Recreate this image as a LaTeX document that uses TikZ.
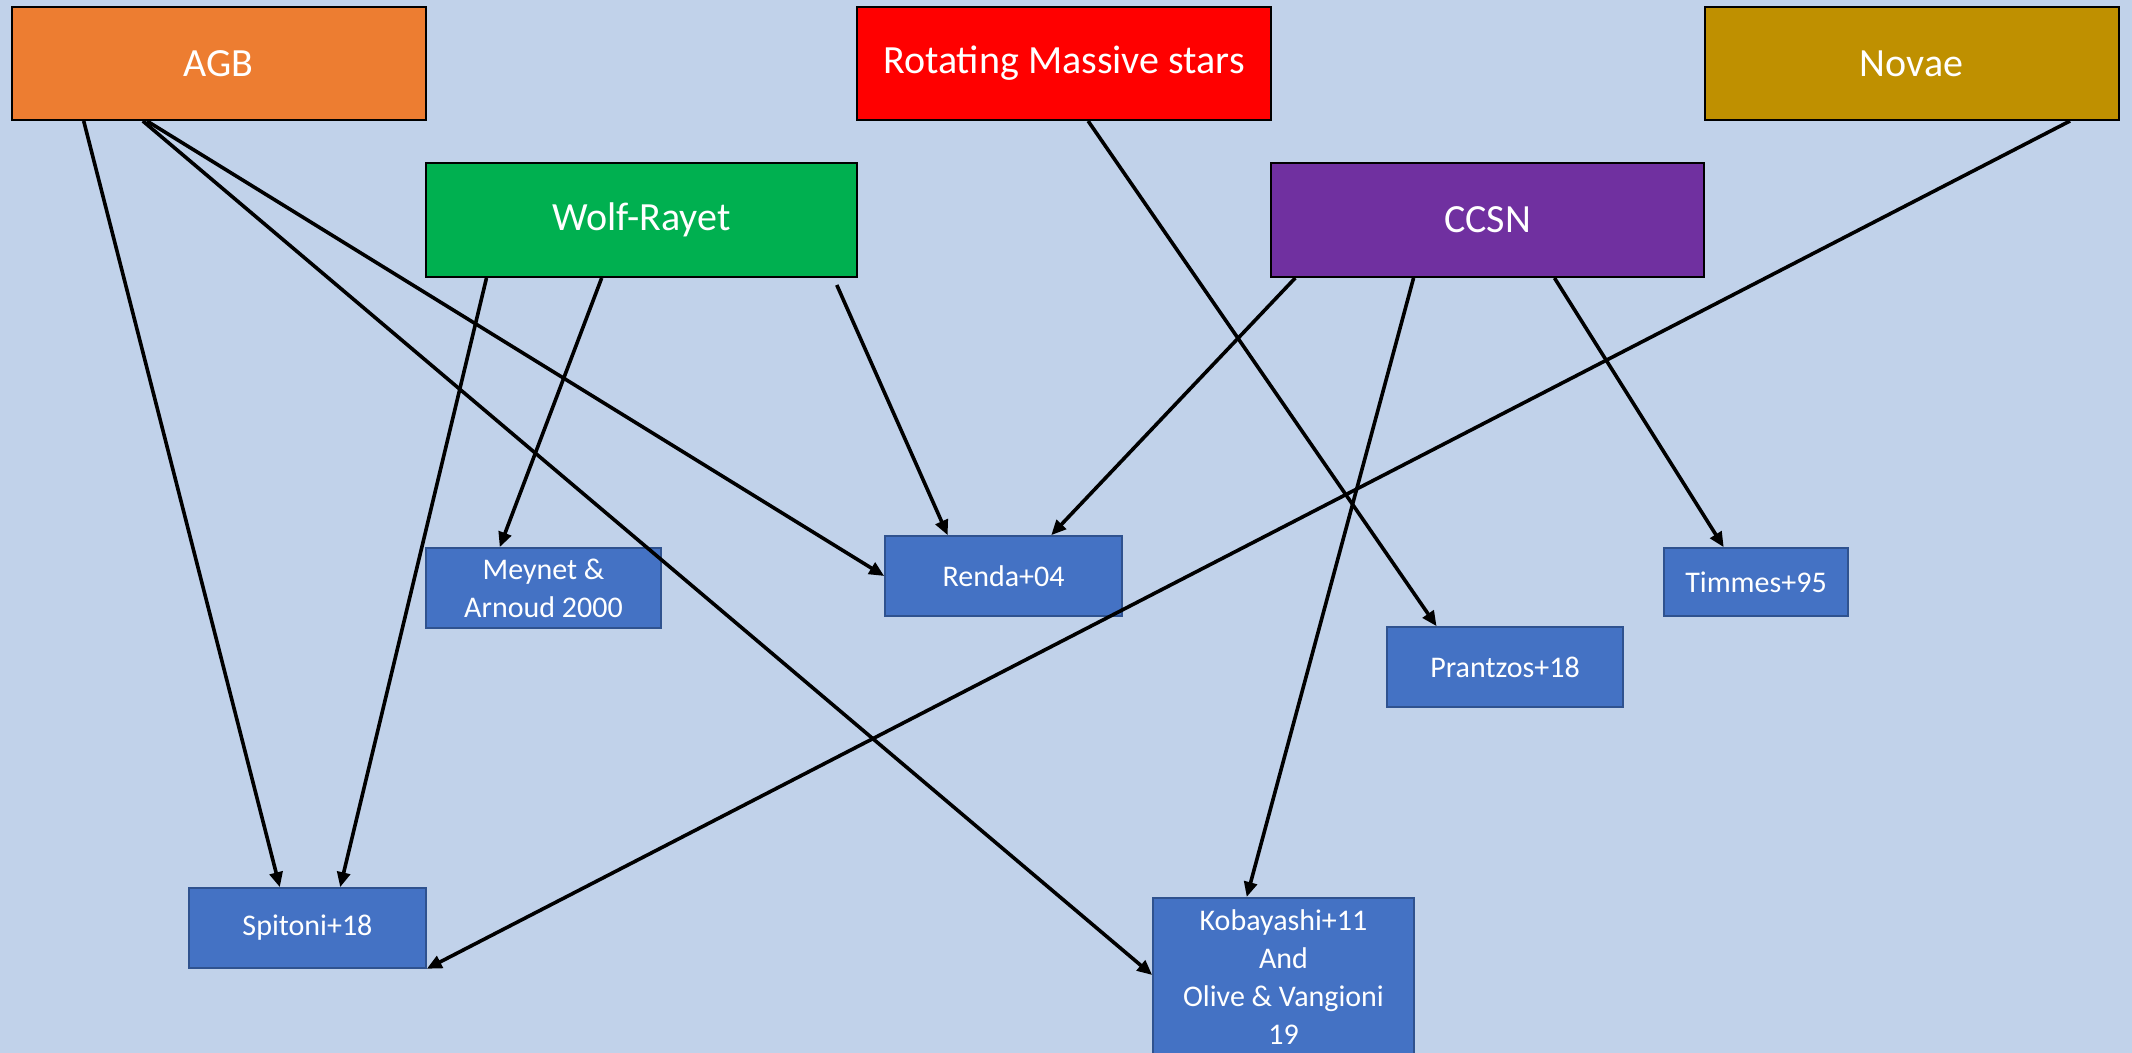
\documentclass[tikz,border=0pt]{standalone}
\usepackage{fontspec}
\setmainfont{Carlito}
\usepackage{tikz}
\usetikzlibrary{calc,arrows.meta}

\definecolor{bgBlue}{HTML}{C1D2EA}
\definecolor{cAGB}{HTML}{ED7D31}
\definecolor{cRot}{HTML}{FF0000}
\definecolor{cNova}{HTML}{BF9000}
\definecolor{cWR}{HTML}{00B050}
\definecolor{cCCSN}{HTML}{7030A0}
\definecolor{refBlue}{HTML}{4472C4}
\definecolor{refEdge}{HTML}{2F528F}

\begin{document}
\begin{tikzpicture}[
  x=0.5pt, y=-0.5pt,
  src/.style={draw=black, line width=1pt, text=white, font=\fontsize{20}{24}\selectfont,
              minimum width=207pt, minimum height=56.5pt, inner sep=0pt},
  ref/.style={draw=refEdge, line width=0.8pt, fill=refBlue, text=white,
              font=\fontsize{15}{19}\selectfont, align=center, inner sep=0pt, minimum height=40pt},
  arr/.style={-{Triangle[length=7.5pt,width=6.5pt]}, line width=1.8pt, black},
]
\useasboundingbox (0,0) rectangle (2132,1053);
\clip (0,0) rectangle (2132,1053);
\fill[bgBlue] (0,0) rectangle (2132,1053);

% sources
\node[src, fill=cAGB] (agb) at (218.5,63.5) {AGB};
\node[src, fill=cRot] (rot) at (1064,63.5) {Rotating Massive stars};
\node[src, fill=cNova] (nova) at (1911.5,63.5) {Novae};
\node[src, fill=cWR, minimum width=215.5pt, minimum height=57pt] (wr) at (641.5,220) {Wolf-Rayet};
\node[src, fill=cCCSN, minimum width=216.5pt, minimum height=57pt] (ccsn) at (1487.5,220) {CCSN};

% references
\node[ref, minimum width=117.5pt] (meyn) at (543.5,588) {Meynet \&\\ Arnoud 2000};
\node[ref, minimum width=118.5pt] (renda) at (1003.5,576) {Renda+04};
\node[ref, minimum width=92pt, minimum height=34pt] (timm) at (1756,582) {Timmes+95};
\node[ref, minimum width=118pt] (prant) at (1505,667) {Prantzos+18};
\node[ref, minimum width=118.5pt] (spit) at (307.5,928) {Spitoni+18};
\node[ref, minimum width=130.5pt, inner ysep=6pt, text depth=16pt, anchor=north] (kob) at (1283.5,897)
  {Kobayashi+11\\ And\\ Olive \& Vangioni\\ 19};

% links
\draw[arr] ($(agb.south west)!0.176!(agb.south east)$) -- ($(spit.north west)!0.384!(spit.north east)$);
\draw[arr] ($(agb.south west)!0.318!(agb.south east)$) -- ($(kob.north west)+(0,78)$);
\draw[arr] ($(agb.south west)!0.328!(agb.south east)$) -- (renda.west);
\draw[arr] ($(wr.south west)!0.142!(wr.south east)$) -- ($(spit.north west)!0.637!(spit.north east)$);
\draw[arr] ($(wr.south west)!0.408!(wr.south east)$) -- ($(meyn.north west)!0.315!(meyn.north east)$);
\draw[arr] ($(wr.south west)!0.951!(wr.south east)+(0,7)$) -- ($(renda.north west)!0.266!(renda.north east)$);
\draw[arr] ($(rot.south west)!0.558!(rot.south east)$) -- ($(prant.north west)!0.212!(prant.north east)$);
\draw[arr] ($(nova.south west)!0.881!(nova.south east)$) -- (spit.south east);
\draw[arr] ($(ccsn.south west)!0.058!(ccsn.south east)$) -- ($(renda.north west)!0.70!(renda.north east)$);
\draw[arr] ($(ccsn.south west)!0.33!(ccsn.south east)$) -- ($(kob.north west)!0.36!(kob.north east)$);
\draw[arr] ($(ccsn.south west)!0.654!(ccsn.south east)$) -- ($(timm.north west)!0.326!(timm.north east)$);
\end{tikzpicture}
\end{document}
